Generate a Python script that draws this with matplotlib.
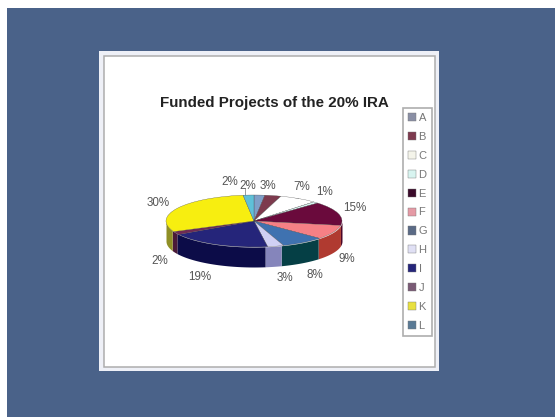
import numpy as np
import matplotlib
matplotlib.use("Agg")
import matplotlib.pyplot as plt
from matplotlib.patches import Rectangle

plt.rcParams['font.family'] = ['Liberation Sans', 'DejaVu Sans']

W, H = 555, 417

categories = ["A", "B", "C", "D", "E", "F", "G", "H", "I", "J", "K", "L"]
shares = [2, 3, 7, 1, 15, 9, 8, 3, 19, 2, 30, 2]
top_colors = ["#7f9fc8", "#7d3a4e", "#ffffff", "#d8f4f0", "#6a0a3c", "#f58085",
              "#3f72b0", "#d0d0f4", "#25257a", "#6f2a55", "#f7ee10", "#5fc0d8"]
side_colors = ["#5f7fa8", "#5f2a3a", "#e8e8e0", "#b0d0cc", "#4a0628", "#b03a30",
               "#053f45", "#8585bb", "#0c0c48", "#4a1a38", "#8f8f25", "#3f90a8"]
legend_colors = ["#8a8fa5", "#7d3a4e", "#f4f4ea", "#d8f4f0", "#3a0a2a", "#e59aa5",
                 "#5a6a85", "#e0e0f4", "#25257a", "#7a5a75", "#e8e040", "#5a7a95"]


def px_rect(left, top, right, bottom):
    # figure fraction rectangle from pixel edges, y measured from the top
    return [left / W, 1 - bottom / H, (right - left) / W, (bottom - top) / H]


fig = plt.figure(figsize=(W / 100, H / 100), dpi=100, facecolor="white")

# page background and the white card
bg = fig.add_axes([0, 0, 1, 1])
bg.set_xlim(0, W)
bg.set_ylim(H, 0)
bg.axis("off")
bg.add_patch(Rectangle((7, 8), W - 7, H - 8, fc="#4a6289", ec="none"))
bg.add_patch(Rectangle((99, 51), 340, 320, fc="#eef0f7", ec="none"))
bg.add_patch(Rectangle((103.5, 55.5), 331, 311, fc="white", ec="#adadad", lw=1.1))
bg.text(274, 103, "Funded Projects of the 20% IRA", ha="center", va="center",
        fontsize=10.9, fontweight="bold", color="#222222")

# pie, squashed to an ellipse, top face spans 88x26 px around (254, 221)
cx, cy, rx, ry = 254, 221, 88, 26
depth = 20 / ry
ax = fig.add_axes(px_rect(cx - rx, cy - ry, cx + rx, cy + ry + 20))
ax.patch.set_alpha(0)

start = 90
wedges, _ = ax.pie(shares, colors=top_colors, startangle=start, counterclock=False,
                   radius=1, wedgeprops={"edgecolor": "#404040", "linewidth": 0.2})
ax.set_aspect("auto")
ax.set_xlim(-1, 1)
ax.set_ylim(-1 - depth, 1)

# rim of the disc, only the part below the centre line shows
edges = start - np.cumsum([0] + shares) * 3.6
for a1, a0, col in zip(edges[:-1], edges[1:], side_colors):
    a0_c, a1_c = max(a0, -180), min(a1, 0)
    if a1_c <= a0_c:
        continue
    t = np.radians(np.linspace(a0_c, a1_c, 40))
    ax.fill_between(np.cos(t), np.sin(t), np.sin(t) - depth, color=col, lw=0, zorder=0.5)

# percent labels and their two leader lines
label_px = [(248, 186), (268, 186), (302, 187), (325, 192), (355, 208), (347, 259),
            (315, 275), (285, 278), (200, 277), (160, 261), (158, 203), (230, 182)]
for (lx, ly), s in zip(label_px, shares):
    bg.text(lx, ly, f"{s}%", ha="center", va="center", fontsize=8.4, color="#555555")
bg.plot([245, 245], [189, 197], color="#8a8a8a", lw=0.6)
bg.plot([273, 298], [198, 198], color="#8a8a8a", lw=0.6)

leg = fig.legend(wedges, categories, loc="upper left",
                 bbox_to_anchor=(403 / W, 1 - 108 / H), bbox_transform=fig.transFigure,
                 fontsize=8, frameon=True, fancybox=False, edgecolor="#9a9a9a",
                 labelspacing=0.8, handlelength=0.75, handleheight=0.75,
                 handletextpad=0.2, borderpad=0.45, borderaxespad=0, labelcolor="#777777")
leg.get_frame().set_linewidth(1.2)
for handle, col in zip(leg.legend_handles, legend_colors):
    handle.set_facecolor(col)
    handle.set_edgecolor("#777777")
    handle.set_linewidth(0.3)

fig.savefig("out.png", dpi=100)
